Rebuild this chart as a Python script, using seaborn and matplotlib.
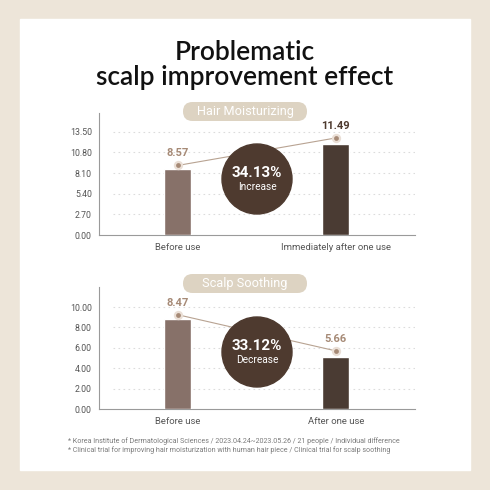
import matplotlib
matplotlib.use("Agg")
import matplotlib.pyplot as plt
import matplotlib.patches as mpatches
import seaborn as sns

# values
categories_top = ["Before use", "Immediately after one use"]
bar_top = [8.57, 11.9]
dot_top = [9.1, 12.7]
labels_top = ["8.57", "11.49"]
ticks_top = [0.0, 2.7, 5.4, 8.1, 10.8, 13.5]

categories_bot = ["Before use", "After one use"]
bar_bot = [8.8, 5.15]
dot_bot = [9.25, 5.7]
labels_bot = ["8.47", "5.66"]
ticks_bot = [0.0, 2.0, 4.0, 6.0, 8.0, 10.0]

bar_colors = ["#8c6f64", "#4e3a2f"]
light = "#a68a76"
dark = "#4e3a2f"
pill = "#ddd3c2"

sns.set_style("white")
plt.rcParams["font.family"] = ["Roboto", "DejaVu Sans"]

fig = plt.figure(figsize=(4.9, 4.9), dpi=100)
fig.patch.set_facecolor("#ede5d9")

# background panel + overlay in pixel coords
bg = fig.add_axes([0, 0, 1, 1], zorder=0)
bg.set_xlim(0, 490)
bg.set_ylim(490, 0)
bg.axis("off")
bg.add_patch(mpatches.Rectangle((20, 19), 450, 451, color="white"))

fg = fig.add_axes([0, 0, 1, 1], zorder=10)
fg.set_xlim(0, 490)
fg.set_ylim(490, 0)
fg.axis("off")
fg.patch.set_alpha(0)

fg.text(245, 52, "Problematic", ha="center", va="center", fontsize=19,
        family="Lato", fontweight="semibold", color="#111111")
fg.text(245, 77, "scalp improvement effect", ha="center", va="center",
        fontsize=19, family="Lato", fontweight="semibold", color="#111111")


def panel(rect, cats, bars, dots, labels, ticks, ymax, title, pill_y, circle_y,
          pct, word, label_colors):
    ax = fig.add_axes(rect, zorder=5)
    ax.patch.set_alpha(0)
    sns.barplot(x=cats, y=bars, hue=cats, palette=bar_colors, width=0.17,
                legend=False, ax=ax, zorder=3)
    ax.set_xlim(-0.5, 1.5)
    ax.set_ylim(0, ymax)
    ax.set_yticks(ticks)
    ax.set_yticklabels([f"{t:.2f}" for t in ticks])
    ax.hlines(ticks[1:], -0.41, 1.5, colors="#dcdcdc", linestyles=(0, (1.5, 3)),
              linewidth=0.8, zorder=1)
    ax.tick_params(axis="y", length=0, pad=5, labelsize=6.3, labelcolor="#555555")
    ax.tick_params(axis="x", length=0, pad=6, labelsize=6.8, labelcolor="#555555")
    sns.despine(ax=ax)
    for s in ["left", "bottom"]:
        ax.spines[s].set_color("#9a9a9a")
        ax.spines[s].set_linewidth(0.8)
    ax.set_xlabel("")
    ax.set_ylabel("")

    ax.plot([0, 1], dots, color="#b8a392", linewidth=0.8, zorder=4)
    ax.scatter([0, 1], dots, s=45, color="#eadfd6", zorder=5, linewidths=0)
    ax.scatter([0, 1], dots, s=12, color=light, zorder=6, linewidths=0)
    for i, (d, lab) in enumerate(zip(dots, labels)):
        ax.annotate(lab, (i, d), xytext=(0, 5), textcoords="offset points",
                    ha="center", va="bottom", fontsize=8, fontweight="bold",
                    color=label_colors[i])

    fg.add_patch(mpatches.FancyBboxPatch((183, pill_y - 9.5), 124, 19,
                                         boxstyle="round,pad=0,rounding_size=9.5",
                                         mutation_aspect=1, color=pill,
                                         linewidth=0))
    fg.text(245, pill_y, title, ha="center", va="center", fontsize=9.2,
            color="white")
    fg.add_patch(mpatches.Circle((257, circle_y), 35, color=dark))
    fg.text(257, circle_y - 6, pct, ha="center", va="center", fontsize=11,
            fontweight="bold", color="white")
    fg.text(257, circle_y + 8, word, ha="center", va="center", fontsize=7.3,
            color="white")


panel([98.7 / 490, 1 - 235 / 490, 316.3 / 490, 122.3 / 490],
      categories_top, bar_top, dot_top, labels_top, ticks_top, 16,
      "Hair Moisturizing", 111.5, 179, "34.13%", "Increase", [light, dark])

panel([98.7 / 490, 1 - 409 / 490, 316.3 / 490, 122.3 / 490],
      categories_bot, bar_bot, dot_bot, labels_bot, ticks_bot, 12,
      "Scalp Soothing", 283.5, 352, "33.12%", "Decrease", [light, light])

fg.text(68, 441, "* Korea Institute of Dermatological Sciences / 2023.04.24~2023.05.26 / 21 people / Individual difference",
        ha="left", va="center", fontsize=5.1, color="#7a7a7a")
fg.text(68, 450, "* Clinical trial for improving hair moisturization with human hair piece / Clinical trial for scalp soothing",
        ha="left", va="center", fontsize=5.1, color="#7a7a7a")

fig.savefig("out.png", dpi=100, facecolor=fig.get_facecolor())
